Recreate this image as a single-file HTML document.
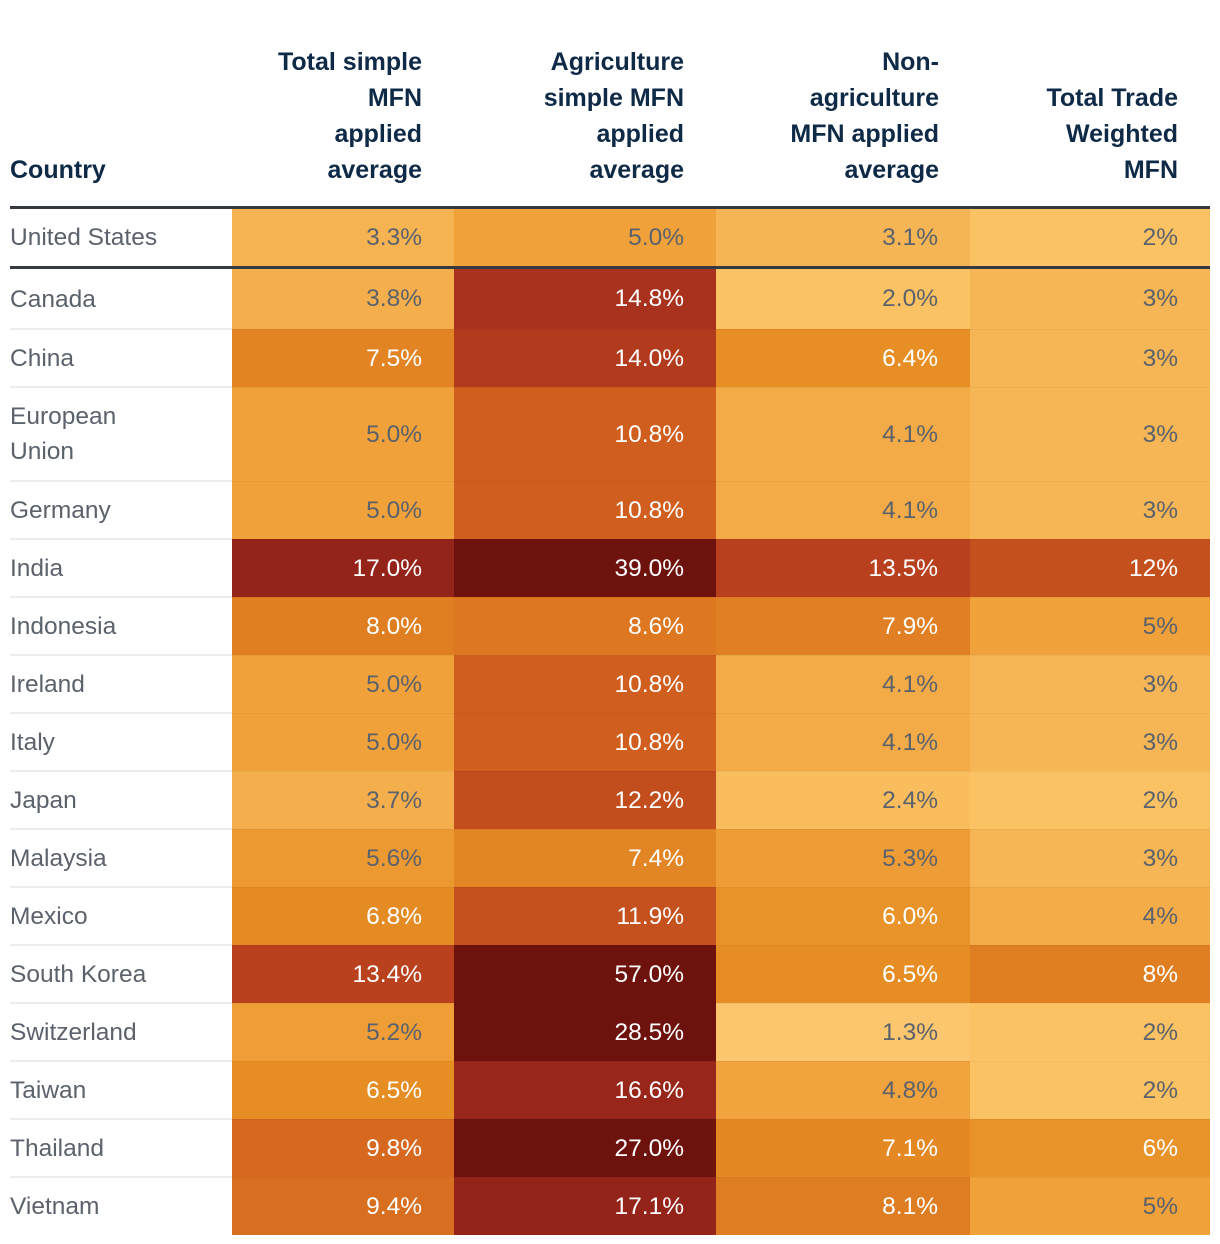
<!DOCTYPE html>
<html><head><meta charset="utf-8"><style>
body{margin:0;width:1220px;height:1244px;background:#fff;font-family:"Liberation Sans",sans-serif;overflow:hidden;position:relative}
.h{position:absolute;font-weight:bold;color:#0e2a47;font-size:25px;line-height:36px;text-align:right}
.cell{position:absolute;font-size:24.5px;color:#5b626c;box-sizing:border-box}
.cn{padding-left:0;display:flex;align-items:center;line-height:35px}
.v{display:flex;align-items:center;justify-content:flex-end;padding-right:32px;border-top:1px solid rgba(0,0,0,0.04)}
.sep{position:absolute;left:10px;width:222px;height:2px;background:#ececec}
</style></head><body>
<div class="h" style="left:10px;top:152px;text-align:left">Country</div>
<div class="h" style="left:202px;width:220px;top:44px">Total simple<br>MFN<br>applied<br>average</div>
<div class="h" style="left:454px;width:230px;top:44px">Agriculture<br>simple MFN<br>applied<br>average</div>
<div class="h" style="left:716px;width:223px;top:44px">Non-<br>agriculture<br>MFN applied<br>average</div>
<div class="h" style="left:970px;width:208px;top:80px">Total Trade<br>Weighted<br>MFN</div>
<div style="position:absolute;left:10px;top:206px;width:1200px;height:3px;background:#343a40"></div>
<div style="position:absolute;left:10px;top:266px;width:1200px;height:3px;background:#343a40;z-index:2"></div>
<div id="t"></div>
<script>
const countries=["United States","Canada","China","European Union","Germany","India","Indonesia","Ireland","Italy","Japan","Malaysia","Mexico","South Korea","Switzerland","Taiwan","Thailand","Vietnam"];
const totalSimple=[3.3,3.8,7.5,5.0,5.0,17.0,8.0,5.0,5.0,3.7,5.6,6.8,13.4,5.2,6.5,9.8,9.4];
const agriculture=[5.0,14.8,14.0,10.8,10.8,39.0,8.6,10.8,10.8,12.2,7.4,11.9,57.0,28.5,16.6,27.0,17.1];
const nonAgriculture=[3.1,2.0,6.4,4.1,4.1,13.5,7.9,4.1,4.1,2.4,5.3,6.0,6.5,1.3,4.8,7.1,8.1];
const tradeWeighted=[2,3,3,3,3,12,5,3,3,2,3,4,8,2,2,6,5];
const cols=[[totalSimple,232,222,1],[agriculture,454,262,1],[nonAgriculture,716,254,1],[tradeWeighted,970,240,0]];
const stops=[[1.3,[252,198,110]],[2,[251,194,99]],[3.3,[245,179,82]],[5,[240,161,58]],[6.5,[230,142,36]],[7.5,[226,132,36]],[8.6,[221,119,32]],[10.8,[208,94,30]],[12,[196,80,30]],[13.5,[184,64,30]],[14.8,[168,50,30]],[17,[148,35,26]],[27,[110,18,14]],[60,[110,18,14]]];
function color(v){for(let i=0;i<stops.length-1;i++){const a=stops[i],b=stops[i+1];if(v<=b[0]){const t=Math.max(0,(v-a[0])/(b[0]-a[0]));return 'rgb('+a[1].map((c,k)=>Math.round(c+(b[1][k]-c)*t)).join(',')+')';}}return 'rgb(110,18,14)';}
const t=document.getElementById('t');
let y=209;
countries.forEach((c,i)=>{
 const h=i==0?57:(c=="European Union"?94:58);
 const top=i==1?269:y;const hh=i==1?60:h;
 if(i>1){const s=document.createElement('div');s.className='sep';s.style.top=(top-1)+'px';
 
 t.appendChild(s);}
 const n=document.createElement('div');n.className='cell cn';
 n.style.cssText+=`left:10px;top:${top}px;width:${c=="European Union"?150:210}px;height:${hh}px;`;
 n.textContent=c;
 
 
 t.appendChild(n);
 cols.forEach(([arr,x,w,dec],ci)=>{
  const v=arr[i];const d=document.createElement('div');d.className='cell v';
  d.style.cssText+=`left:${x}px;top:${top}px;width:${w}px;height:${hh}px;background:${color(v)};color:${v>=5.95?'#fff':'#5b626c'};`;
  if(i<2)d.style.borderTop='none';
  d.textContent=(dec?v.toFixed(1):v)+'%';
  
  
  t.appendChild(d);
 });
 y=top+hh;
});
</script>
</body></html>
